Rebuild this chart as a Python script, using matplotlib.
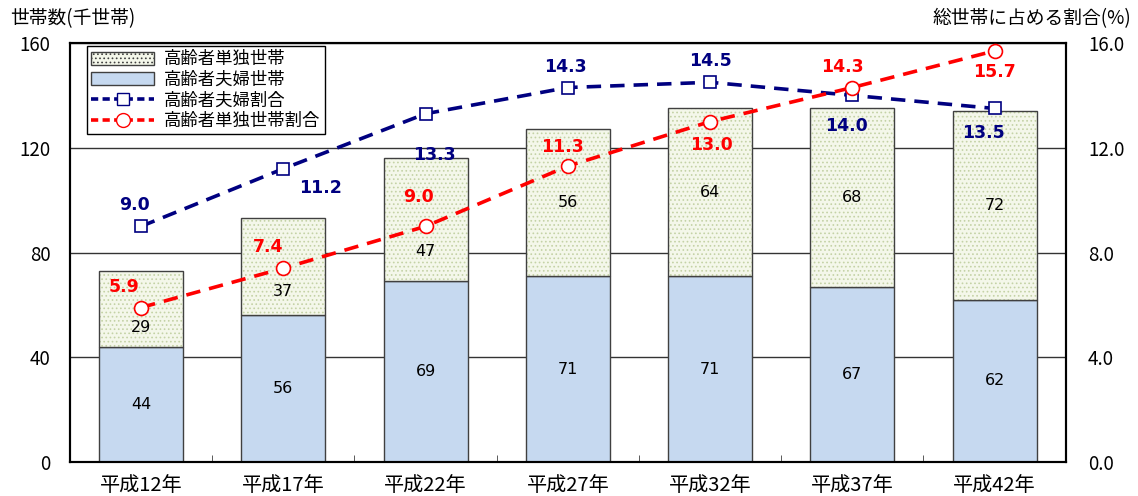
import numpy as np
import matplotlib.pyplot as plt
from matplotlib.patches import Patch
from matplotlib.lines import Line2D

plt.rcParams['font.family'] = ['Noto Sans CJK JP', 'DejaVu Sans']
plt.rcParams['hatch.linewidth'] = 0.7

years = ['平成12年', '平成17年', '平成22年', '平成27年', '平成32年', '平成37年', '平成42年']
couple = [44, 56, 69, 71, 71, 67, 62]          # 高齢者夫婦世帯 (千世帯)
single = [29, 37, 47, 56, 64, 68, 72]          # 高齢者単独世帯 (千世帯)
couple_rate = [9.0, 11.2, 13.3, 14.3, 14.5, 14.0, 13.5]
single_rate = [5.9, 7.4, 9.0, 11.3, 13.0, 14.3, 15.7]

# label offsets in points (dx, dy) for the rate labels
couple_off = [(-5, 15), (27, -14), (6, -30), (-2, 15), (0, 15), (-4, -22), (-8, -18)]
single_off = [(-12, 15), (-11, 15), (-5, 21), (-4, 14), (1, -17), (-7, 15), (0, -15)]
# shift (in data units) of the upper segment labels, keeps them clear of the lines
single_shift = [-7, -9.5, -12, 0, 0, 0, 0]

x = np.arange(len(years))

fig = plt.figure(figsize=(11.38, 4.96), dpi=100)
ax = fig.add_axes([0.0615, 0.0685, 0.875, 0.8448])
ax2 = ax.twinx()

ax.set_ylim(0, 160)
ax.set_xlim(-0.5, len(years) - 0.5)
ax.set_yticks([0, 40, 80, 120, 160])
ax.yaxis.grid(True, color='#333333', linewidth=1)
ax.set_axisbelow(True)

w = 0.59
ax.bar(x, couple, w, color='#C6D9F0', edgecolor='#404040', linewidth=1, zorder=2)
# dotted fill: hatch colour follows the edgecolor, so the outline is drawn on top separately
ax.bar(x, single, w, bottom=couple, color='#F4F7EA', edgecolor='#C4D2A6',
       linewidth=0, hatch='....', zorder=2)
ax.bar(x, single, w, bottom=couple, fill=False, edgecolor='#404040', linewidth=1, zorder=3)

for i in range(len(years)):
    ax.text(x[i], couple[i] / 2, f'{couple[i]}', ha='center', va='center',
            fontsize=11.5, fontfamily='DejaVu Sans', zorder=4)
    ax.text(x[i], couple[i] + single[i] / 2 + single_shift[i], f'{single[i]}',
            ha='center', va='center', fontsize=11.5, fontfamily='DejaVu Sans', zorder=4)

ax2.set_ylim(0, 16)
ax2.set_yticks([0, 4, 8, 12, 16])
ax2.set_yticklabels([f'{v:.1f}' for v in [0, 4, 8, 12, 16]])

ax2.plot(x, couple_rate, color='#000080', linestyle=(0, (4, 2.5)), linewidth=2.6,
         marker='s', markersize=9, markerfacecolor='white', markeredgecolor='#000080',
         markeredgewidth=1.2, zorder=5)
ax2.plot(x, single_rate, color='#FF0000', linestyle=(0, (4, 2.5)), linewidth=2.6,
         marker='o', markersize=10, markerfacecolor='white', markeredgecolor='#FF0000',
         markeredgewidth=1.2, zorder=5)

for i in range(len(years)):
    ax2.annotate(f'{couple_rate[i]:.1f}', (x[i], couple_rate[i]), xytext=couple_off[i],
                 textcoords='offset points', ha='center', va='center', fontsize=12.5,
                 fontweight='bold', color='#000080', fontfamily='DejaVu Sans')
    ax2.annotate(f'{single_rate[i]:.1f}', (x[i], single_rate[i]), xytext=single_off[i],
                 textcoords='offset points', ha='center', va='center', fontsize=12.5,
                 fontweight='bold', color='#FF0000', fontfamily='DejaVu Sans')

ax.set_xticks(x)
ax.set_xticklabels(years, fontsize=14.5)
ax.set_xticks(x[:-1] + 0.5, minor=True)
ax.tick_params(axis='x', which='major', length=0, pad=9)
ax.tick_params(axis='x', which='minor', direction='in', length=5, color='#404040')
ax.tick_params(axis='y', length=0, labelsize=13.5, pad=14)
ax2.tick_params(axis='y', length=0, labelsize=13.5, pad=16)

for a in (ax, ax2):
    for s in a.spines.values():
        s.set_color('black')
        s.set_linewidth(1.5)

fig.text(0.009, 0.962, '世帯数(千世帯)', fontsize=13.5, ha='left', va='center')
fig.text(0.994, 0.962, '総世帯に占める割合(%)', fontsize=13.5, ha='right', va='center')

handles = [
    Patch(facecolor='#F4F7EA', edgecolor='#404040', hatch='....'),
    Patch(facecolor='#C6D9F0', edgecolor='#404040'),
    Line2D([], [], color='#000080', linestyle=(0, (2, 1.2)), linewidth=2.6, marker='s',
           markersize=9, markerfacecolor='white', markeredgecolor='#000080'),
    Line2D([], [], color='#FF0000', linestyle=(0, (2, 1.2)), linewidth=2.6, marker='o',
           markersize=10, markerfacecolor='white', markeredgecolor='#FF0000'),
]
labels = ['高齢者単独世帯', '高齢者夫婦世帯', '高齢者夫婦割合', '高齢者単独世帯割合']
leg = ax2.legend(handles, labels, loc='upper left', bbox_to_anchor=(0.017, 0.993),
                 prop={'size': 12.5}, frameon=True, fancybox=False, framealpha=1,
                 edgecolor='black', borderpad=0.25, labelspacing=0.15,
                 handlelength=3.6, handleheight=0.8, handletextpad=0.6, borderaxespad=0)
leg.get_frame().set_linewidth(1)
leg.set_zorder(10)

fig.savefig('out.png', dpi=100)
